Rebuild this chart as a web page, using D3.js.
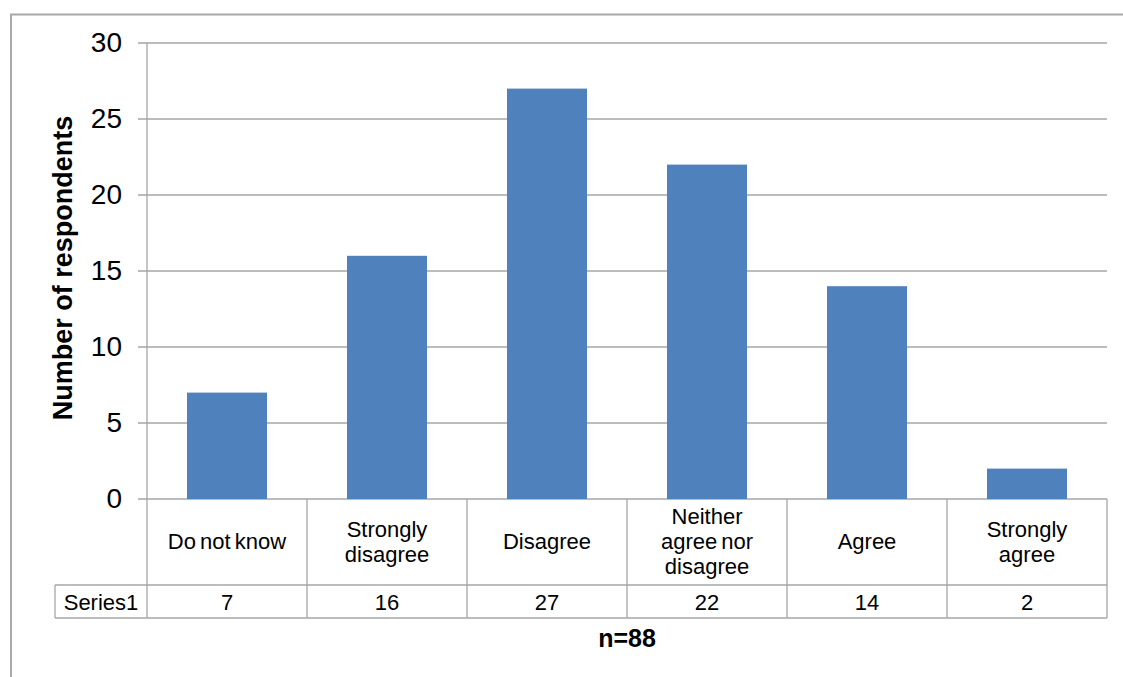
<!DOCTYPE html>
<html><head><meta charset="utf-8">
<script src="https://cdn.jsdelivr.net/npm/d3@7"></script>
<style>body{margin:0;background:#fff;}svg{display:block;font-family:"Liberation Sans",Arial,sans-serif;}</style>
</head><body><svg id="c" width="1123" height="677"></svg>
<script>
const categories = [["Do not know"],["Strongly","disagree"],["Disagree"],["Neither","agree nor","disagree"],["Agree"],["Strongly","agree"]];
const values = [7,16,27,22,14,2];
const seriesName = "Series1";
const yTicks = [0,5,10,15,20,25,30];
const yTitle = "Number of respondents";
const footer = "n=88";

const svg = d3.select("#c");
const L = 147, R = 1107, T = 43, B = 499;
const grid = "#a6a6a6";

// outer border
svg.append("path").attr("d","M11,677 L11,14.5 L1123,14.5").attr("fill","none").attr("stroke","#a8a8a8").attr("stroke-width",2);

const x = d3.scaleBand().domain(d3.range(values.length)).range([L,R]).paddingInner(0).paddingOuter(0);
const y = d3.scaleLinear().domain([0,30]).range([B,T]);

// gridlines
svg.append("g").selectAll("line").data(yTicks).join("line")
  .attr("x1",L-9).attr("x2",R).attr("y1",d=>y(d)).attr("y2",d=>y(d))
  .attr("stroke",grid).attr("stroke-width",1.3);

// y axis
const yAxis = d3.axisLeft(y).tickValues(yTicks).tickSize(0).tickPadding(25);
const ga = svg.append("g").attr("transform",`translate(${L},0)`).call(yAxis);
ga.select(".domain").remove();
ga.selectAll("text").attr("font-size",28).attr("fill","#000").attr("font-family","Liberation Sans, Arial, sans-serif");
svg.append("line").attr("x1",L).attr("x2",L).attr("y1",T).attr("y2",B).attr("stroke",grid).attr("stroke-width",1.3);

// bars
const bw = x.bandwidth()*0.5;
svg.append("g").selectAll("rect").data(values).join("rect")
  .attr("x",(d,i)=>x(i)+x.bandwidth()/2-bw/2).attr("width",bw)
  .attr("y",d=>y(d)).attr("height",d=>y(0)-y(d)).attr("fill","#4f81bd");

// y title
svg.append("text").attr("transform",`translate(72,268) rotate(-90)`)
  .attr("text-anchor","middle").attr("font-size",27).attr("font-weight","bold").text(yTitle);

// data table
const r1 = B, r2 = 585, r3 = 618, tl = 55;
const tg = svg.append("g").attr("stroke",grid).attr("stroke-width",1.3);
tg.append("line").attr("x1",tl).attr("x2",R).attr("y1",r2).attr("y2",r2);
tg.append("line").attr("x1",tl).attr("x2",R).attr("y1",r3).attr("y2",r3);
tg.append("line").attr("x1",tl).attr("x2",tl).attr("y1",r2).attr("y2",r3);
tg.append("line").attr("x1",R).attr("x2",R).attr("y1",r1).attr("y2",r3);
tg.selectAll(".v").data(d3.range(values.length)).join("line")
  .attr("x1",i=>x(i)).attr("x2",i=>x(i)).attr("y1",r1).attr("y2",r3);

const lh = 25;
svg.append("g").selectAll("text").data(categories).join("text")
  .attr("text-anchor","middle").attr("font-size",22).attr("word-spacing",-2)
  .each(function(lines,i){
    const t = d3.select(this);
    const cy = 549 - (lines.length-1)*lh/2;
    lines.forEach((s,k)=>t.append("tspan").attr("x",x(i)+x.bandwidth()/2).attr("y",cy+k*lh).text(s));
  });
svg.append("g").selectAll("text").data(values).join("text")
  .attr("text-anchor","middle").attr("font-size",22)
  .attr("x",(d,i)=>x(i)+x.bandwidth()/2).attr("y",609.5).text(d=>d);
svg.append("text").attr("x",(tl+L)/2).attr("y",609.5).attr("text-anchor","middle").attr("font-size",22).text(seriesName);

svg.append("text").attr("x",627).attr("y",647).attr("text-anchor","middle")
  .attr("font-size",25).attr("font-weight","bold").text(footer);
</script></body></html>
